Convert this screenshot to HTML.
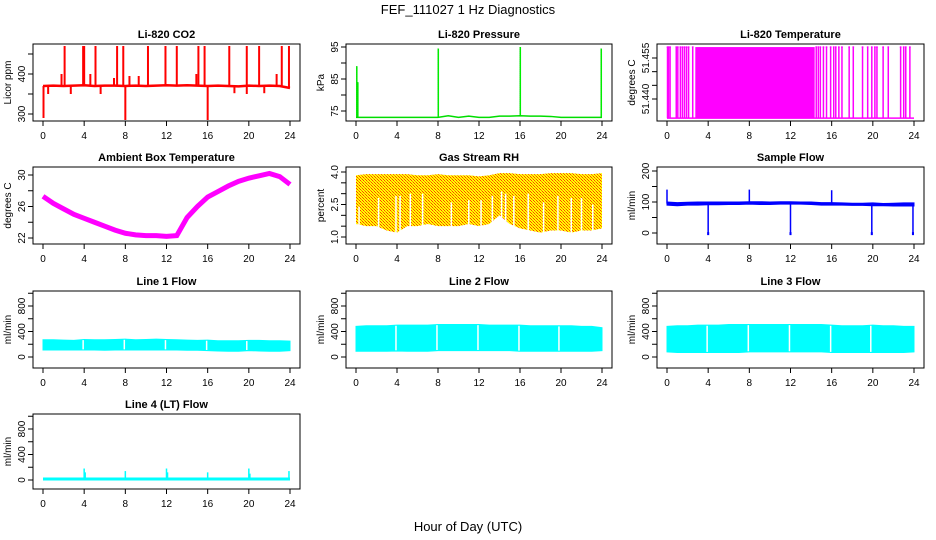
<!DOCTYPE html>
<html><head><meta charset="utf-8"><style>
body{margin:0;background:#fff}
svg{display:block;font-family:"Liberation Sans",Arial,sans-serif}
.tt{font-size:11px;font-weight:bold;text-anchor:middle}
.tk{font-size:10px;text-anchor:middle}
</style></head><body>
<svg id="c" width="936" height="540" viewBox="0 0 936 540">
<defs><pattern id="rhpat" width="3" height="3" patternUnits="userSpaceOnUse"><rect width="3" height="3" fill="#ffff00"/><rect width="1" height="1" fill="#ff4000"/><rect x="2" y="2" width="1" height="1" fill="#ff4000"/><rect x="1" y="1" width="1" height="1" fill="#ff8000"/></pattern></defs>
<text x="468" y="14" font-size="13" text-anchor="middle">FEF_111027  1 Hz Diagnostics</text>
<text x="468" y="531" font-size="13" text-anchor="middle">Hour of Day (UTC)</text>
</svg>
<script>
const xTicks=[0,4,8,12,16,20,24];
const hours=[0,1,2,3,4,5,6,7,8,9,10,11,12,13,14,15,16,17,18,19,20,21,22,23,24];
// CO2
const co2Base=[370,371,370,371,372,370,371,371,370,371,370,371,372,371,372,371,370,371,370,369,371,370,371,370,365];
const co2SpikeHours=[0.05,2.1,3.9,4.0,5.1,7.2,7.8,8.0,10.2,11.9,13.0,15.1,15.7,16.0,18.1,19.8,21.0,23.2,23.9,1.8,4.6,6.9,8.4,9.3,0.5,2.7,5.6,14.9,18.6,19.8,21.5,22.7];
const co2SpikeVals=[290,470,470,470,470,470,470,285,470,470,470,470,470,285,470,470,470,470,470,400,400,390,395,395,350,350,350,400,352,350,352,400];
// Pressure
const presBase=[73,73,73,73,73,73,73,73,73,73.5,73,73.4,73,73,73.4,73.4,73.5,73.4,73.4,73.3,73,73,73,73,73];
const presSpikeHours=[0.05,0.15,8.0,16.0,23.9];
const presSpikeVals=[89,84,94.5,95,94.5];
// Li-820 temperature
const tLow=51.433, tHigh=51.459;
const tDense=[2.75,14.35];
const tToggles=[0.05,0.15,0.3,0.9,1.05,1.3,1.5,1.7,1.9,2.1,2.5,14.5,14.7,14.9,15.2,15.5,15.9,16.2,16.4,16.7,17.0,17.7,18.1,19.0,19.5,19.9,20.2,20.4,21.0,21.5,22.7,23.0,23.2,23.6];
// Ambient temperature
const ambT=[27.3,26.4,25.7,25.0,24.5,24.0,23.5,23.0,22.6,22.4,22.3,22.3,22.2,22.3,24.6,26.0,27.2,27.9,28.6,29.2,29.6,29.9,30.2,29.8,28.8];
// RH
const rhHi=[3.85,3.9,3.9,3.9,3.9,3.9,3.85,3.85,3.9,3.85,3.85,3.85,3.8,3.85,3.95,3.95,3.9,3.9,3.9,3.95,3.95,3.95,3.9,3.9,3.95];
const rhLo=[1.6,1.5,1.5,1.3,1.2,1.5,1.5,1.6,1.5,1.5,1.5,1.6,1.5,1.6,2.0,1.6,1.4,1.3,1.2,1.3,1.3,1.2,1.3,1.3,1.4];
const rhDipHours=[0.3,2.2,3.9,4.3,5.3,6.5,9.3,11.0,12.2,13.3,14.2,14.6,15.4,16.8,18.3,19.7,21.0,22.0,23.1];
const rhDipVals=[2.4,2.8,2.9,2.9,3.0,3.0,2.6,2.7,2.7,2.9,3.1,3.0,2.9,3.0,2.6,2.9,2.8,2.8,2.5];
// Sample flow
const sfHi=[100,98,99,100,100,100,100,100,101,101,100,101,101,100,100,98,98,97,96,96,97,95,96,97,97];
const sfLo=[90,88,90,90,91,91,92,92,93,92,92,93,93,93,92,90,90,90,89,89,88,88,87,87,87];
const sfEventHours=[0.0,4.0,8.0,12.0,16.0,19.9,23.9];
const sfEventVals=[140,-5,140,-5,138,-5,-5];
// Line flows
const l1Hi=[270,270,265,260,275,270,270,275,280,270,275,280,275,270,265,260,265,255,255,255,260,260,255,255,250];
const l1Lo=[110,110,110,110,110,110,105,110,110,110,110,110,110,110,105,105,100,95,90,90,100,95,90,90,100];
const l2Hi=[480,490,490,490,500,500,500,500,510,510,510,510,510,500,500,500,500,490,490,490,490,490,480,480,460];
const l2Lo=[90,90,90,90,95,90,90,90,100,100,100,100,100,100,100,100,90,90,90,90,90,90,90,90,100];
const l3Hi=[480,490,490,500,500,500,510,510,510,510,510,510,510,510,510,510,500,490,490,490,500,490,490,480,480];
const l3Lo=[80,70,70,70,70,70,70,70,80,80,80,80,80,80,80,80,70,70,70,70,70,70,70,70,80];
const flowGaps=[3.9,7.9,11.9,15.9,19.8];
const l4Base=[15,15,15,15,15,15,15,15,15,15,15,15,15,15,15,15,15,15,15,15,15,15,15,15,15];
const l4SpikeHours=[4.0,4.1,8.0,12.0,12.1,16.0,20.0,20.1,23.9];
const l4SpikeVals=[180,120,140,180,120,120,180,100,140];

const NS='http://www.w3.org/2000/svg';
const svg=document.getElementById('c');
function el(tag,attrs,parent){const e=document.createElementNS(NS,tag);for(const k in attrs)e.setAttribute(k,attrs[k]);(parent||svg).appendChild(e);return e;}
const cols=[33,346,657], colW=[267,266,267];
const rows=[[44,121],[167,244],[291,368],[414,489]];
function makePanel(ci,ri,title,ylab,yMap,ticks,labels,name){
  const x0=cols[ci],x1=cols[ci]+colW[ci],y0=rows[ri][0],y1=rows[ri][1];
  const g=el('g',{});
  
  
  const sx=h=>x0+10+(h/24)*(colW[ci]-20);
  const sy=v=>yMap[1]+(v-yMap[0])*(yMap[3]-yMap[1])/(yMap[2]-yMap[0]);
  const t=el('text',{x:(x0+x1)/2,y:y0-6,class:'tt'},g);t.textContent=title;
  
  
  const yl=el('text',{x:0,y:0,class:'tk',transform:`translate(${x0-22},${(y0+y1)/2}) rotate(-90)`},g);yl.textContent=ylab;
  
  
  xTicks.forEach(h=>{el('line',{x1:sx(h),x2:sx(h),y1:y1,y2:y1+5,stroke:'#000'},g);
    const tx=el('text',{x:sx(h),y:y1+18,class:'tk'},g);tx.textContent=h;
    
    });
  ticks.forEach(v=>{el('line',{x1:x0-5,x2:x0,y1:sy(v),y2:sy(v),stroke:'#000'},g);});
  labels.forEach(v=>{const tx=el('text',{x:0,y:0,class:'tk',transform:`translate(${x0-8},${sy(v)}) rotate(-90)`},g);tx.textContent=v;
    
    });
  const plot=el('g',{},g);
  el('rect',{x:x0,y:y0,width:x1-x0,height:y1-y0,fill:'none',stroke:'#000'},g);
  return {sx,sy,g:plot};
}
function line(p,h1,v1,h2,v2,col,w,extra){const l=el('line',Object.assign({x1:p.sx(h1),y1:p.sy(v1),x2:p.sx(h2),y2:p.sy(v2),stroke:col,'stroke-width':w},extra||{}),p.g);return l;}
function poly(p,vals,col,w){return el('polyline',{points:hours.map((h,i)=>p.sx(h)+','+p.sy(vals[i])).join(' '),fill:'none',stroke:col,'stroke-width':w},p.g);}
function band(p,lo,hi,fill){return el('polygon',{points:hours.map((h,i)=>p.sx(h)+','+p.sy(hi[i])).concat(hours.slice().reverse().map((h,j)=>p.sx(h)+','+p.sy(lo[24-j]))).join(' '),fill:fill,stroke:fill==='url(#rhpat)'?'none':fill},p.g);}

// CO2
let p=makePanel(0,0,'Li-820 CO2','Licor ppm',[300,114,400,74],[300,350,400,450],['300','400'],'co2');
let s=poly(p,co2Base,'#ff0000',2.5);


co2SpikeHours.forEach((h,i)=>{const b=co2Base[Math.min(24,Math.round(h))];const l=line(p,h,b,h,co2SpikeVals[i],'#ff0000',2);
  
  });
// Pressure
p=makePanel(1,0,'Li-820 Pressure','kPa',[75,111,95,47],[75,80,85,90,95],['75','85','95'],'pressure');
s=poly(p,presBase,'#00dd00',1.5);


presSpikeHours.forEach((h,i)=>{line(p,h,presBase[Math.round(h)],h,presSpikeVals[i],'#000',1,{'stroke-dasharray':'1,1'});
  const l=line(p,h+0.03,presBase[Math.round(h)],h+0.03,presSpikeVals[i],'#00ee00',1.5);
  
  });
// Li-820 temp
p=makePanel(2,0,'Li-820 Temperature','degrees C',[51.440,99,51.455,58],[51.440,51.445,51.450,51.455],['51.440','51.455'],'licor-temp');
line(p,0,tLow,24,tLow,'#ff00ff',1.5);
s=el('rect',{x:p.sx(tDense[0]),y:p.sy(tHigh),width:p.sx(tDense[1])-p.sx(tDense[0]),height:p.sy(tLow)-p.sy(tHigh),fill:'#ff00ff'},p.g);


tToggles.forEach(h=>{const l=line(p,h,tLow,h,tHigh,'#ff00ff',1.5);
  
  
  line(p,h-0.08,tHigh,h+0.08,tHigh,'#ff00ff',1.5);});
// Ambient
p=makePanel(0,1,'Ambient Box Temperature','degrees C',[22,238,30,175],[22,24,26,28,30],['22','26','30'],'ambient-temp');
s=poly(p,ambT,'#ff00ff',5);


// RH
p=makePanel(1,1,'Gas Stream RH','percent',[1.0,237,4.0,172],[1.0,1.5,2.0,2.5,3.0,3.5,4.0],['1.0','2.5','4.0'],'rh');
s=band(p,rhLo,rhHi,'url(#rhpat)');


rhDipHours.forEach((h,i)=>{const l=line(p,h,1.0,h,rhDipVals[i],'#fff',1.5);
  
  });
// Sample flow
p=makePanel(2,1,'Sample Flow','ml/min',[0,233,200,171],[0,50,100,150,200],['0','100','200'],'sample-flow');
s=band(p,sfLo,sfHi,'#0000ff');


sfEventHours.forEach((h,i)=>{const l=line(p,h,95,h,sfEventVals[i],'#0000ff',1.5);
  
  
  if(sfEventVals[i]<50)line(p,h-0.1,sfEventVals[i]+3,h+0.1,sfEventVals[i]+3,'#0000ff',3);});
// Line flows
const fl=[[0,2,'Line 1 Flow',l1Lo,l1Hi,'line1-flow'],[1,2,'Line 2 Flow',l2Lo,l2Hi,'line2-flow'],[2,2,'Line 3 Flow',l3Lo,l3Hi,'line3-flow']];
fl.forEach(f=>{
  const q=makePanel(f[0],f[1],f[2],'ml/min',[0,357,800,306],[0,200,400,600,800,1000],['0','400','800'],f[5]);
  const b=band(q,f[3],f[4],'#00ffff');
  
  
  flowGaps.forEach(h=>{line(q,h,f[3][Math.round(h)]+10,h,f[4][Math.round(h)]-10,'#fff',1.5);});
});
p=makePanel(0,3,'Line 4 (LT) Flow','ml/min',[0,480,800,429],[0,200,400,600,800,1000],['0','400','800'],'line4-flow');
s=poly(p,l4Base,'#00ffff',3);


l4SpikeHours.forEach((h,i)=>{const l=line(p,h,15,h,l4SpikeVals[i],'#00ffff',1.5);
  
  });
</script>
</body></html>
